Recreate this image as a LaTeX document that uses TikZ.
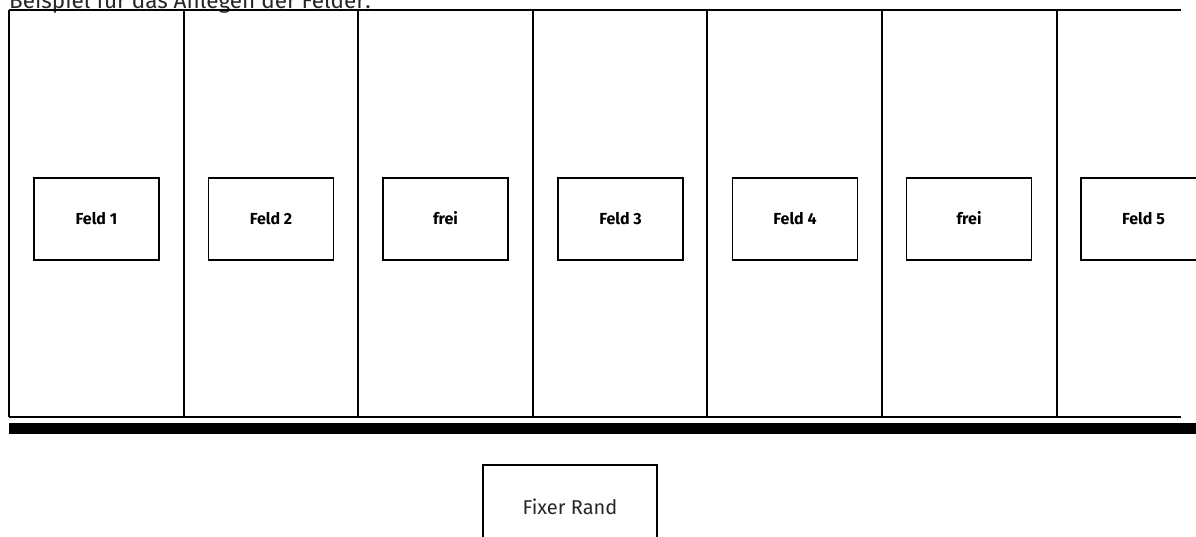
\documentclass[tikz,border=0pt]{standalone}
\usepackage{fontspec}
\setmainfont{Fira Sans}
\begin{document}
\begin{tikzpicture}[x=1pt,y=-1pt,
  col/.style={draw=black,line width=1.5pt},
  fbox/.style={draw=black,line width=1.5pt,minimum width=125pt,minimum height=82pt,inner sep=0pt,text height=11.5pt,text depth=0pt,font=\fontsize{16}{18}\selectfont\bfseries},
  rbox/.style={draw=black,line width=1.5pt,minimum width=174pt,minimum height=90pt,inner sep=0pt,font=\fontsize{20}{22}\selectfont\color{black!85}},
  bar/.style={fill=black,draw=none}]
\useasboundingbox (0,0) rectangle (1196,536);
\clip (0,0) rectangle (1196,536);
% title (cropped at top)
\node[anchor=base west,inner sep=0pt,font=\fontsize{22.5}{24}\selectfont\color{black!85}] (title) at (9,8) {Beispiel für das Anlegen der Felder:};
% frame lines
\coordinate (tl) at (9,10);
\coordinate (tr) at (1181,10);
\coordinate (bl) at (9,417);
\coordinate (br) at (1181,417);
\draw[col] (tl) -- (tr);
\draw[col] (bl) -- (br);
\foreach \x [count=\i] in {9,184,358,533,707,882,1057}{
  \coordinate (ct\i) at (\x,10);
  \coordinate (cb\i) at (\x,417);
  \draw[col] (ct\i) -- (cb\i);
}
% thick bar
\node[bar,anchor=north west,minimum width=1190pt,minimum height=11pt,inner sep=0pt] (rand) at (9,423) {};
% fields
\node[fbox] (f1) at (96.5,219) {Feld 1};
\node[fbox] (f2) at (271,219) {Feld 2};
\node[fbox] (f3) at (445.5,219) {frei};
\node[fbox] (f4) at (620.5,219) {Feld 3};
\node[fbox] (f5) at (795,219) {Feld 4};
\node[fbox] (f6) at (969,219) {frei};
\node[fbox] (f7) at (1143.5,219) {Feld 5};
% fixer rand
\node[rbox] (fix) at (570,510) {\raisebox{6pt}{Fixer Rand}};
\end{tikzpicture}
\end{document}
